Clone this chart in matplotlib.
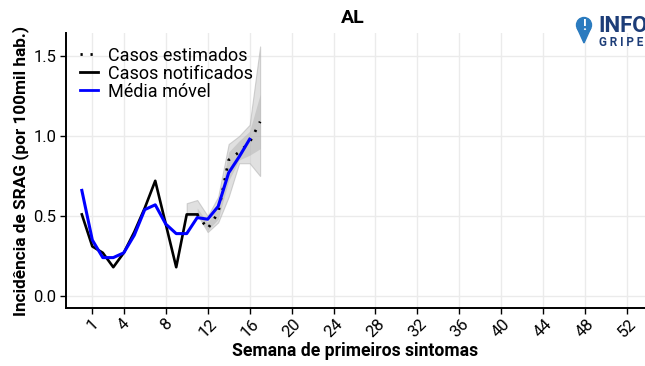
import matplotlib.pyplot as plt
from matplotlib.patches import Circle, Polygon
from matplotlib.lines import Line2D

plt.rcParams['font.family'] = ['Roboto', 'DejaVu Sans']

# dados
semanas_notif = list(range(0, 12))
notificados = [0.51, 0.31, 0.27, 0.18, 0.27, 0.40, 0.55, 0.72, 0.45, 0.18, 0.51, 0.51]

semanas_mm = list(range(0, 17))
media_movel = [0.66, 0.35, 0.24, 0.24, 0.27, 0.38, 0.54, 0.57, 0.45, 0.39, 0.39,
               0.49, 0.48, 0.56, 0.77, 0.87, 0.98]

semanas_est = list(range(11, 18))
estimados = [0.51, 0.42, 0.52, 0.85, 0.90, 0.96, 1.09]

# intervalos de predição
semanas_ic95 = list(range(10, 18))
ic95_sup = [0.58, 0.60, 0.50, 0.62, 0.95, 1.00, 1.07, 1.56]
ic95_inf = [0.51, 0.51, 0.40, 0.46, 0.62, 0.83, 0.83, 0.75]
semanas_ic50 = list(range(11, 18))
ic50_sup = [0.55, 0.46, 0.56, 0.90, 0.97, 1.03, 1.26]
ic50_inf = [0.51, 0.41, 0.48, 0.72, 0.85, 0.88, 0.92]

xticks = [1, 4, 8, 12, 16, 20, 24, 28, 32, 36, 40, 44, 48, 52]
yticks = [0.0, 0.5, 1.0, 1.5]

fig = plt.figure(figsize=(6.45, 3.66), dpi=100)
ax = fig.add_axes([66 / 645, 58 / 366, 1 - 66 / 645, (308 - 33) / 366])

ax.fill_between(semanas_ic95, ic95_inf, ic95_sup, color='#c8c8c8', alpha=0.55, lw=0.8,
                edgecolor='#b0b0b0')
ax.fill_between(semanas_ic50, ic50_inf, ic50_sup, color='#a8a8a8', alpha=0.4, lw=0)
ax.plot(semanas_notif, notificados, color='black', lw=1.9)
ax.plot(semanas_est, estimados, color='black', lw=2, linestyle=(0, (0.8, 2.8)))
ax.plot(semanas_mm, media_movel, color='#0000ff', lw=2.2)

ax.set_xlim(-1.51, 53.7)
ax.set_ylim(-0.075, 1.644)
ax.set_xticks(xticks)
ax.set_xticklabels([str(t) for t in xticks], rotation=45, ha='center', va='top', fontsize=12)
ax.set_yticks(yticks)
ax.set_yticklabels(['0.0', '0.5', '1.0', '1.5'], fontsize=12)
ax.tick_params(axis='both', length=4, width=1, color='black', labelcolor='black')
ax.tick_params(axis='x', pad=2)
ax.tick_params(axis='y', pad=3)
ax.grid(True, color='#ebebeb', lw=1)
ax.set_axisbelow(True)
for s in ['top', 'right']:
    ax.spines[s].set_visible(False)
for s in ['left', 'bottom']:
    ax.spines[s].set_linewidth(1.4)

ax.set_xlabel('Semana de primeiros sintomas', fontsize=12.7, fontweight='bold', labelpad=1)
ax.set_ylabel('Incidência de SRAG (por 100mil hab.)', fontsize=12.4, fontweight='bold', labelpad=3)

handles = [
    Line2D([], [], color='black', lw=2, linestyle=(0, (0.8, 2.8))),
    Line2D([], [], color='black', lw=2),
    Line2D([], [], color='#0000ff', lw=2),
]
ax.legend(handles, ['Casos estimados', 'Casos notificados', 'Média móvel'],
          loc='upper left', bbox_to_anchor=(0.0, 1.0), frameon=False, fontsize=13,
          handlelength=1.0, handletextpad=0.6, labelspacing=0.0, borderaxespad=0.35)

fig.text(353 / 645, 1 - 18 / 366, 'AL', ha='center', va='center', fontsize=14, fontweight='bold')

# logo InfoGripe
lax = fig.add_axes([573 / 645, 1 - 48 / 366, 22 / 645, 36 / 366])
lax.set_xlim(0, 22)
lax.set_ylim(0, 36)
lax.set_aspect('equal')
lax.axis('off')
lax.add_patch(Circle((11, 23), 7.5, color='#2b7bbf'))
lax.add_patch(Polygon([[4.2, 20], [17.8, 20], [11, 5]], color='#2b7bbf'))
lax.text(11, 22.5, '!', color='white', ha='center', va='center', fontsize=10, fontweight='bold')
fig.text(598 / 645, 1 - 26 / 366, 'INFO', ha='left', va='center', fontsize=16,
         fontweight='bold', color='#1d3d78')
fig.text(599 / 645, 1 - 42 / 366, 'G R I P E', ha='left', va='center', fontsize=8.5,
         fontweight='bold', color='#1d3d78')

plt.savefig('out.png', dpi=100)
